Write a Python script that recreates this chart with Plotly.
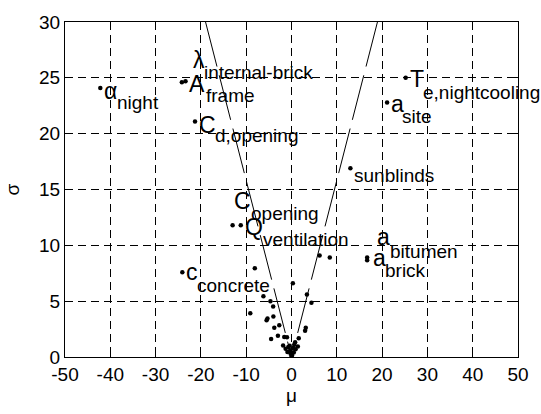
import numpy as np
import plotly.graph_objects as go

# ---------------- data ----------------
# labelled factors (mu, sigma)
lab_mu    = [-42.2, -24.2, -23.4, -21.3, 25.2, 21.1, 13.0, -13.0, -11.2, -24.1, 16.7, 16.7]
lab_sigma = [24.1, 24.6, 24.7, 21.1, 25.0, 22.8, 16.9, 11.8, 11.8, 7.6, 8.9, 8.67]
lab_main  = ["α", "λ", "A", "C", "T", "a", "", "C", "Q", "c", "a", "a"]
lab_sub   = ["night", "internal-brick", "frame", "d,opening", "e,nightcooling", "site",
             "sunblinds", "opening", "ventilation", "concrete", "bitumen", "brick"]

# unlabelled factors
other_mu = [-8.1, -9.1, -6.2, -4.65, -4.05, -5.3, -5.5, -4.0, -3.8, -2.7, -4.5, -3.0,
            -1.6, -1.0, 0.3, 3.4, 4.4, 6.2, 8.45, 3.15, 3.0, 1.6, 0.8, -1.85,
            -1.3, -0.7, -0.3, 0.3, 0.9, 1.4, -0.9, 0.5, -0.2, 0.1, 0.0, -0.4, 0.6]
other_sigma = [7.95, 3.92, 5.43, 5.0, 4.53, 3.45, 3.3, 3.62, 2.62, 2.84, 1.62, 1.9,
               1.8, 1.76, 6.6, 5.6, 4.86, 9.1, 8.9, 2.63, 2.34, 1.67, 1.33, 1.04,
               0.75, 0.9, 0.6, 0.8, 0.7, 0.95, 0.45, 0.4, 0.3, 0.15, 0.05, 1.0, 1.1]

# reference lines mu = +/- 2 sigma / sqrt(r)
r_traj = 10
line_sigma = [30, 0]

x_ticks = [-50, -40, -30, -20, -10, 0, 10, 20, 30, 40, 50]
y_ticks = [0, 5, 10, 15, 20, 25, 30]

# ---------------- styling (label offsets in px: main dx, dy, sub dx, dy) ----------------
label_offsets = [
    (1.3, -4.7, 14.6, -15.7),
    (8.7, 21.0, 20.4, 8.6),
    (1.4, -4.0, 18.7, -16.1),
    (1.5, -4.7, 18.0, -16.1),
    (2.0, -3.0, 15.3, -16.4),
    (1.7, -2.6, 13.4, -15.4),
    (0.0, 0.0, 2.0, -8.8),
    (-0.3, 22.3, 16.0, 10.1),
    (2.0, -3.0, 20.4, -15.4),
    (1.3, -1.3, 13.0, -14.4),
    (8.0, 19.0, 20.7, 4.9),
    (3.4, 0.7, 15.7, -11.4),
]
Y_ADJ = 1.5
FONT = "Liberation Sans, Arial, sans-serif"
MAIN_SIZE = 23
SUB_SIZE = 19

fig = go.Figure()

k = 2.0 / np.sqrt(r_traj)
for sgn in (-1, 1):
    fig.add_trace(go.Scatter(
        x=[sgn * k * s for s in line_sigma], y=line_sigma, mode="lines",
        line=dict(color="black", width=1, dash="46px,9px"),
        showlegend=False, hoverinfo="skip"))

fig.add_trace(go.Scatter(x=other_mu, y=other_sigma, mode="markers",
                         marker=dict(color="black", size=4.5), showlegend=False))
fig.add_trace(go.Scatter(x=lab_mu, y=lab_sigma, mode="markers",
                         marker=dict(color="black", size=4.5), showlegend=False))

for mu, sg, m, s, off in zip(lab_mu, lab_sigma, lab_main, lab_sub, label_offsets):
    if m:
        fig.add_annotation(x=mu, y=sg, text=m, showarrow=False, xanchor="left",
                           yanchor="middle", xshift=off[0], yshift=off[1] + Y_ADJ,
                           font=dict(family=FONT, size=MAIN_SIZE, color="black"))
    fig.add_annotation(x=mu, y=sg, text=s, showarrow=False, xanchor="left",
                       yanchor="middle", xshift=off[2], yshift=off[3] + Y_ADJ,
                       font=dict(family=FONT, size=SUB_SIZE, color="black"))

axis_common = dict(showline=True, linecolor="black", linewidth=1, mirror="ticks",
                   ticks="inside", ticklen=5, tickcolor="black", showgrid=True,
                   gridcolor="black", gridwidth=1, griddash="8px,5px", zeroline=False,
                   tickfont=dict(family=FONT, size=19, color="black"))

fig.update_xaxes(range=[-50, 50], tickvals=x_ticks, ticktext=[str(v) for v in x_ticks],
                 title=dict(text="μ", font=dict(family=FONT, size=19, color="black"), standoff=4),
                 **axis_common)
fig.update_yaxes(range=[0, 30], tickvals=y_ticks, ticktext=[str(v) for v in y_ticks],
                 title=dict(text="σ", font=dict(family=FONT, size=19, color="black"), standoff=14),
                 **axis_common)

fig.update_layout(width=541, height=414, margin=dict(l=61, r=21, t=16, b=52),
                  plot_bgcolor="white", paper_bgcolor="white", showlegend=False)

fig.write_html("out.html")
